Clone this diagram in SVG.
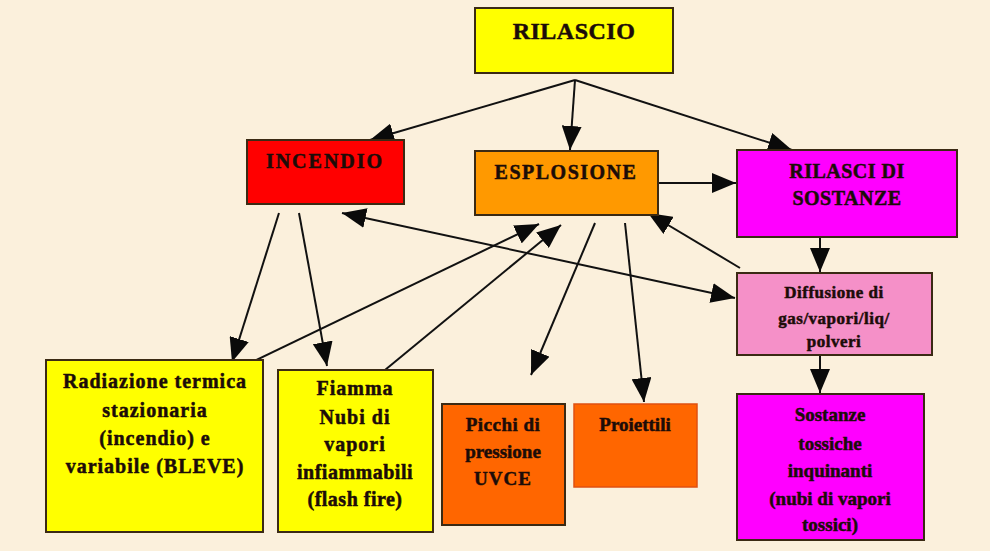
<svg xmlns="http://www.w3.org/2000/svg" width="990" height="551" viewBox="0 0 990 551">
<style>
.box{stroke:#3b2a14;stroke-width:2}
text{font-family:"Liberation Serif","Times New Roman",serif;font-weight:bold;fill:#1c0c08;stroke:#1c0c08;stroke-width:0.5;text-anchor:middle}
.l{stroke:#111;stroke-width:2;fill:none}
</style>
<defs>
<marker id="ah" markerUnits="userSpaceOnUse" markerWidth="26" markerHeight="20" refX="24" refY="10" orient="auto-start-reverse" viewBox="0 0 26 20">
<path d="M0,0 L24,10 L0,20 Z" fill="#0a0a0a"/>
</marker>
</defs>
<rect width="990" height="551" fill="#FBF0DC"/>
<g id="connectors">
<line class="l" x1="575" y1="80" x2="370" y2="140" marker-end="url(#ah)"/>
<line class="l" x1="575" y1="80" x2="570" y2="150" marker-end="url(#ah)"/>
<line class="l" x1="575" y1="80" x2="792" y2="150" marker-end="url(#ah)"/>
<line class="l" x1="658" y1="183" x2="736" y2="183" marker-end="url(#ah)"/>
<line class="l" x1="820" y1="237" x2="820" y2="272" marker-end="url(#ah)"/>
<line class="l" x1="820" y1="355" x2="820" y2="393" marker-end="url(#ah)"/>
<line class="l" x1="342" y1="213" x2="735" y2="298" marker-start="url(#ah)" marker-end="url(#ah)"/>
<line class="l" x1="740" y1="268" x2="648" y2="213" marker-end="url(#ah)"/>
<line class="l" x1="250" y1="363" x2="539" y2="224" marker-end="url(#ah)"/>
<line class="l" x1="385" y1="370" x2="561" y2="225" marker-end="url(#ah)"/>
<line class="l" x1="279" y1="213" x2="232" y2="362" marker-end="url(#ah)"/>
<line class="l" x1="299" y1="213" x2="327" y2="366" marker-end="url(#ah)"/>
<line class="l" x1="595" y1="223" x2="531" y2="375" marker-end="url(#ah)"/>
<line class="l" x1="625" y1="223" x2="644" y2="402" marker-end="url(#ah)"/>
</g>
<g id="rilascio">
<rect class="box" x="475" y="8" width="198" height="65" fill="#FFFF00"/>
<text x="574" y="39" font-size="24" letter-spacing="0.5">RILASCIO</text>
</g>
<g id="incendio">
<rect class="box" x="247" y="140" width="157" height="64" fill="#FF0000"/>
<text x="325" y="168" font-size="20" letter-spacing="2">INCENDIO</text>
</g>
<g id="esplosione">
<rect class="box" x="475" y="151" width="183" height="64" fill="#FF9900"/>
<text x="566" y="179" font-size="20" letter-spacing="1.5">ESPLOSIONE</text>
</g>
<g id="rilascio-sostanze">
<rect class="box" x="737" y="150" width="220" height="87" fill="#FF00FF"/>
<text x="847" y="178" font-size="20" letter-spacing="0.5">RILASCI DI</text>
<text x="847" y="205" font-size="20" letter-spacing="0.5">SOSTANZE</text>
</g>
<g id="diffusione">
<rect class="box" x="737" y="273" width="195" height="82" fill="#F590C8"/>
<text x="834" y="298" font-size="17" letter-spacing="0.5">Diffusione di</text>
<text x="834" y="324" font-size="17" letter-spacing="0.5">gas/vapori/liq/</text>
<text x="834" y="347" font-size="17" letter-spacing="0.5">polveri</text>
</g>
<g id="radiazione">
<rect class="box" x="46" y="360" width="217" height="172" fill="#FFFF00"/>
<text x="155" y="388" font-size="20" letter-spacing="1">Radiazione termica</text>
<text x="155" y="417" font-size="20" letter-spacing="1">stazionaria</text>
<text x="155" y="445" font-size="20" letter-spacing="1">(incendio) e</text>
<text x="155" y="473" font-size="20" letter-spacing="1">variabile (BLEVE)</text>
</g>
<g id="fiamma">
<rect class="box" x="278" y="370" width="155" height="162" fill="#FFFF00"/>
<text x="355" y="395" font-size="20" letter-spacing="1">Fiamma</text>
<text x="355" y="424" font-size="20" letter-spacing="1">Nubi di</text>
<text x="355" y="451" font-size="20" letter-spacing="1">vapori</text>
<text x="355" y="479" font-size="20" letter-spacing="0.5">infiammabili</text>
<text x="355" y="506" font-size="20" letter-spacing="0.5">(flash fire)</text>
</g>
<g id="picchi">
<rect class="box" x="442" y="404" width="123" height="121" fill="#FF6600"/>
<text x="503" y="431" font-size="19" letter-spacing="0.5">Picchi di</text>
<text x="503" y="458" font-size="19">pressione</text>
<text x="503" y="485" font-size="19" letter-spacing="1">UVCE</text>
</g>
<g id="proiettili">
<rect x="574" y="404" width="123" height="83" fill="#FF6600" stroke="#E05010" stroke-width="1.5"/>
<text x="635" y="431" font-size="19">Proiettili</text>
</g>
<g id="sostanze">
<rect class="box" x="737" y="394" width="187" height="146" fill="#FF00FF"/>
<text x="830" y="421" font-size="19">Sostanze</text>
<text x="830" y="450" font-size="19">tossiche</text>
<text x="830" y="477" font-size="19">inquinanti</text>
<text x="830" y="505" font-size="19">(nubi di vapori</text>
<text x="830" y="531" font-size="19">tossici)</text>
</g>
</svg>
